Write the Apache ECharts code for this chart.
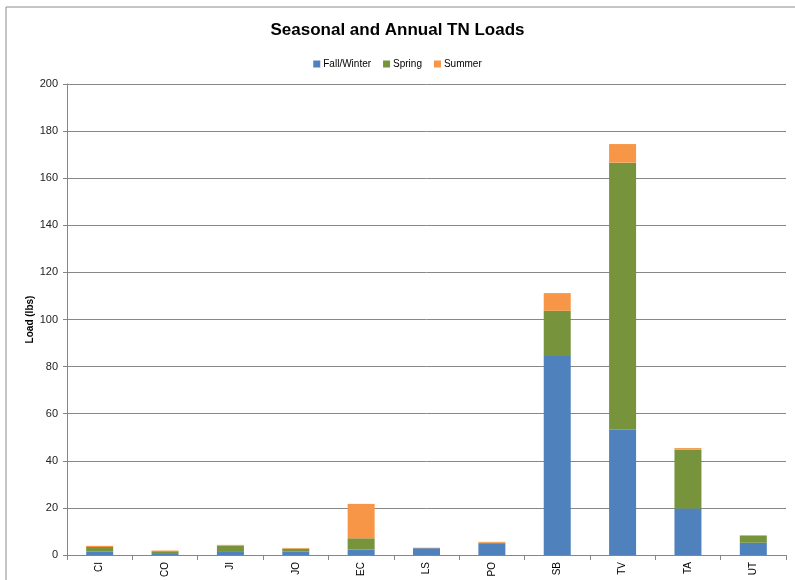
<!DOCTYPE html>
<html>
<head>
<meta charset="utf-8">
<script src="https://cdn.jsdelivr.net/npm/echarts@6/dist/echarts.min.js"></script>
<style>html,body{margin:0;padding:0;background:#fff;}#c{width:795px;height:580px;}</style>
</head>
<body>
<div id="c"></div>
<script>
const categories = ['CI','CO','JI','JO','EC','LS','PO','SB','TV','TA','UT'];
const fallWinter = [1.4, 0.8, 1.3, 1.4, 2.3, 2.9, 5.0, 84.5, 53.2, 19.7, 5.2];
const spring     = [2.0, 0.8, 2.6, 1.3, 4.8, 0.0, 0.2, 19.2, 113.4, 25.0, 3.1];
const summer     = [0.5, 0.3, 0.4, 0.3, 14.6, 0.2, 0.4, 7.5, 7.9, 0.7, 0.0];
const seriesNames = ['Fall/Winter','Spring','Summer'];
const colors = ['#4F81BD','#77933C','#F79646'];

const chart = echarts.init(document.getElementById('c'), null, {renderer:'canvas'});
const font = 'Liberation Sans, Arial, sans-serif';
const mk = (name, data, color) => ({
  name, type:'bar', stack:'total', data, barWidth:27,
  itemStyle:{color}, emphasis:{disabled:true}
});
chart.setOption({
  animation:false,
  backgroundColor:'#fff',
  graphic:[{type:'rect', shape:{x:6, y:7, width:800, height:590}, style:{fill:'none', stroke:'#8c8c8c', lineWidth:1}, silent:true}],
  title:{text:'Seasonal and Annual TN Loads', left:'center', top:17,
    textStyle:{fontFamily:font, fontSize:17, fontWeight:'bold', color:'#000'}},
  legend:{top:54, left:'center', itemWidth:7, itemHeight:7, itemGap:12,
    icon:'rect', textStyle:{fontFamily:font, fontSize:10, color:'#000', padding:[0,0,0,-2]},
    data:seriesNames},
  grid:{left:67, right:9, top:84, bottom:24, containLabel:false},
  xAxis:{type:'category', data:categories,
    axisLine:{lineStyle:{color:'#868686'}},
    axisTick:{show:true, length:5, lineStyle:{color:'#868686'}},
    axisLabel:{rotate:90, fontFamily:font, fontSize:10, color:'#000', margin:7}},
  yAxis:{type:'value', min:0, max:200, interval:20,
    name:'Load (lbs)', nameLocation:'middle', nameGap:32, nameMoveOverlap:false,
    nameTextStyle:{fontFamily:font, fontSize:10, fontWeight:'bold', color:'#000'},
    axisLine:{show:true, lineStyle:{color:'#868686'}},
    axisTick:{show:true, length:4, lineStyle:{color:'#868686'}},
    splitLine:{lineStyle:{color:'#878787'}},
    axisLabel:{fontFamily:font, fontSize:11, color:'#222', margin:9}},
  series:[mk(seriesNames[0], fallWinter, colors[0]), mk(seriesNames[1], spring, colors[1]), mk(seriesNames[2], summer, colors[2])]
});
</script>
</body>
</html>
